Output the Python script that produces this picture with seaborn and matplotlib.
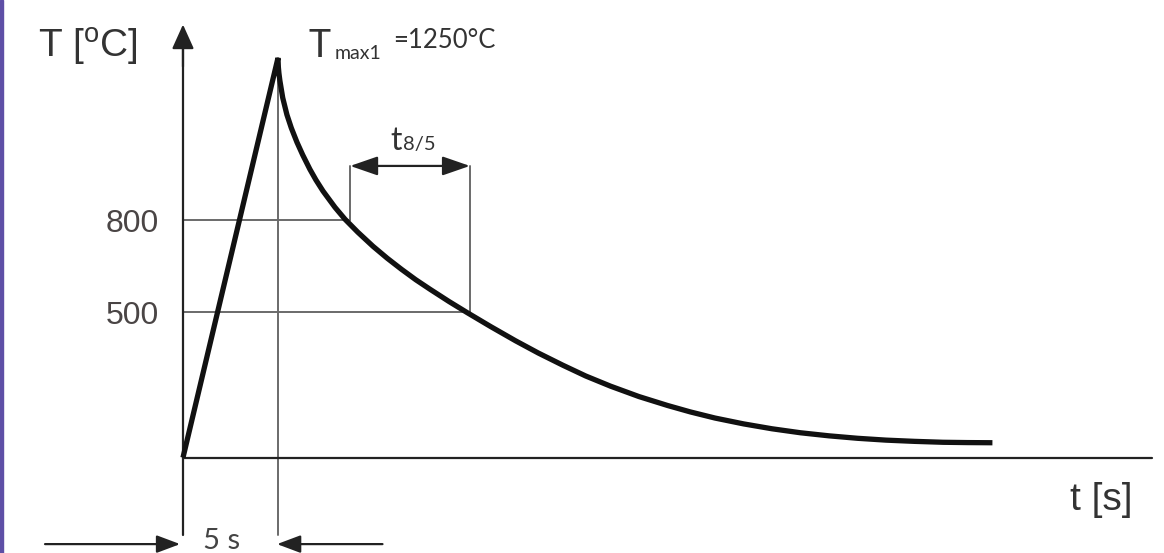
import matplotlib
matplotlib.use('Agg')
import matplotlib.pyplot as plt
import seaborn as sns

t_calent = [0.0, 5.0]
T_calent = [25, 1328]
t_enfr = [5.0, 5.02, 5.05, 5.1, 5.25, 5.47, 5.7, 6.0, 6.3, 6.68, 7.0, 7.37,
          8.0, 8.53, 9.2, 10.0, 10.75, 11.5, 12.25, 13.0, 14.0, 14.95, 16.2,
          17.5, 18.7, 20.0, 21.2, 22.5, 24.0, 25.5, 26.7, 28.0, 29.5, 31.0,
          32.5, 34.0, 35.5, 37.0, 38.5, 40.0, 41.3, 42.6]
T_enfr = [1328, 1298, 1278, 1254, 1198, 1143, 1100, 1053, 1012, 965, 930, 894,
          841, 802, 760, 714, 675, 639, 605, 574, 534, 498, 452,
          406, 366, 326, 291, 258, 224, 195, 174, 154, 135, 119,
          106, 96, 88, 82, 78, 75, 74, 73.5]
t_pico = 5.0
T_max_texto = 1250
T_800 = 800
T_500 = 500
t_800 = 8.8
t_500 = 15.1
T_ambiente = 25
y_ticks = [800, 500]

sns.set_style('white')
plt.rcParams['font.family'] = ['Liberation Sans', 'DejaVu Sans']
plt.rcParams['mathtext.fontset'] = 'custom'
plt.rcParams['mathtext.rm'] = 'Liberation Sans'

fig = plt.figure(figsize=(11.64, 5.53), dpi=100)
ax = fig.add_axes([0, 0, 1, 1])
ax.set_xlim(-9.63, 51.63)
ax.set_ylim(-286, 1517)
ax.axis('off')

gris = '#6a6a6a'
eje = '#222222'

# lineas auxiliares
ax.plot([0, t_800], [T_800, T_800], color=gris, lw=1.4)
ax.plot([0, t_500], [T_500, T_500], color=gris, lw=1.4)
ax.plot([t_800, t_800], [T_800, 976], color=gris, lw=1.4)
ax.plot([t_500, t_500], [T_500, 976], color=gris, lw=1.4)
ax.plot([t_pico, t_pico], [-227, 1328], color=gris, lw=1.4)

# ejes con flechas
ax.plot([0, 0], [-227, 1400], color=eje, lw=1.6)
ax.annotate('', xy=(0, 1437), xytext=(0, 1300),
            arrowprops=dict(arrowstyle='-|>,head_length=1.0,head_width=0.45',
                            mutation_scale=15, color=eje, lw=1.6, shrinkA=0, shrinkB=0))
ax.plot([0, 51], [T_ambiente, T_ambiente], color=eje, lw=1.6)
ax.annotate('', xy=(52.1, T_ambiente), xytext=(49.5, T_ambiente),
            arrowprops=dict(arrowstyle='-|>,head_length=1.0,head_width=0.45',
                            mutation_scale=15, color=eje, lw=1.6, shrinkA=0, shrinkB=0))

# flecha doble t8/5
ax.annotate('', xy=(t_500, 976), xytext=(t_800, 976),
            arrowprops=dict(arrowstyle='<|-|>,head_length=1.3,head_width=0.45',
                            mutation_scale=13, color=eje, lw=1.6, shrinkA=0, shrinkB=0))

# flechas de los 5 s
ax.annotate('', xy=(-0.15, -257), xytext=(-7.26, -257),
            arrowprops=dict(arrowstyle='-|>,head_length=1.2,head_width=0.45',
                            mutation_scale=12, color=eje, lw=1.6, shrinkA=0, shrinkB=0))
ax.annotate('', xy=(t_pico - 0.05, -257), xytext=(10.5, -257),
            arrowprops=dict(arrowstyle='-|>,head_length=1.2,head_width=0.45',
                            mutation_scale=12, color=eje, lw=1.6, shrinkA=0, shrinkB=0))

# curva
t_todo = t_calent + t_enfr[1:]
T_todo = T_calent + T_enfr[1:]
sns.lineplot(x=t_todo, y=T_todo, sort=False, estimator=None, color='#111111',
             lw=3.8, ax=ax)
ax.lines[-1].set_solid_joinstyle('miter')
ax.lines[-1].set_solid_capstyle('butt')

# textos
ax.text(-7.63, 1364, r'T [$^{\mathrm{o}}$C]', fontsize=28, color='#333333',
        ha='left', va='center')
for v in y_ticks:
    ax.text(-1.25, v - 12, str(v), fontsize=23, color='#4a4545',
            ha='right', va='center')
ax.text(46.68, -113, 't [s]', fontsize=28, color='#333333', ha='left', va='center')

ax.text(6.58, 1331, 'T', fontsize=27, color='#333333', family='Lato',
        ha='left', va='baseline')
ax.text(8.0, 1326, 'max1', fontsize=14, color='#333333', family='Lato',
        ha='left', va='baseline')
ax.text(11.05, 1361, f'={T_max_texto}°C', fontsize=18.5, color='#333333',
        family='Lato', ha='left', va='baseline')

ax.text(10.9, 1028, 't', fontsize=23, color='#333333', family='Lato',
        ha='left', va='baseline')
ax.text(11.6, 1028, '8/5', fontsize=14.5, color='#333333', family='Lato',
        ha='left', va='baseline')

ax.text(1.05, -272, '5 s', fontsize=21, color='#444444', family='Lato',
        ha='left', va='baseline')

# borde morado a la izquierda
fig.patches.append(plt.Rectangle((0, 0), 3 / 1164, 1, transform=fig.transFigure,
                                 color='#5e4fa6', zorder=10))

fig.savefig('out.png', dpi=100)
